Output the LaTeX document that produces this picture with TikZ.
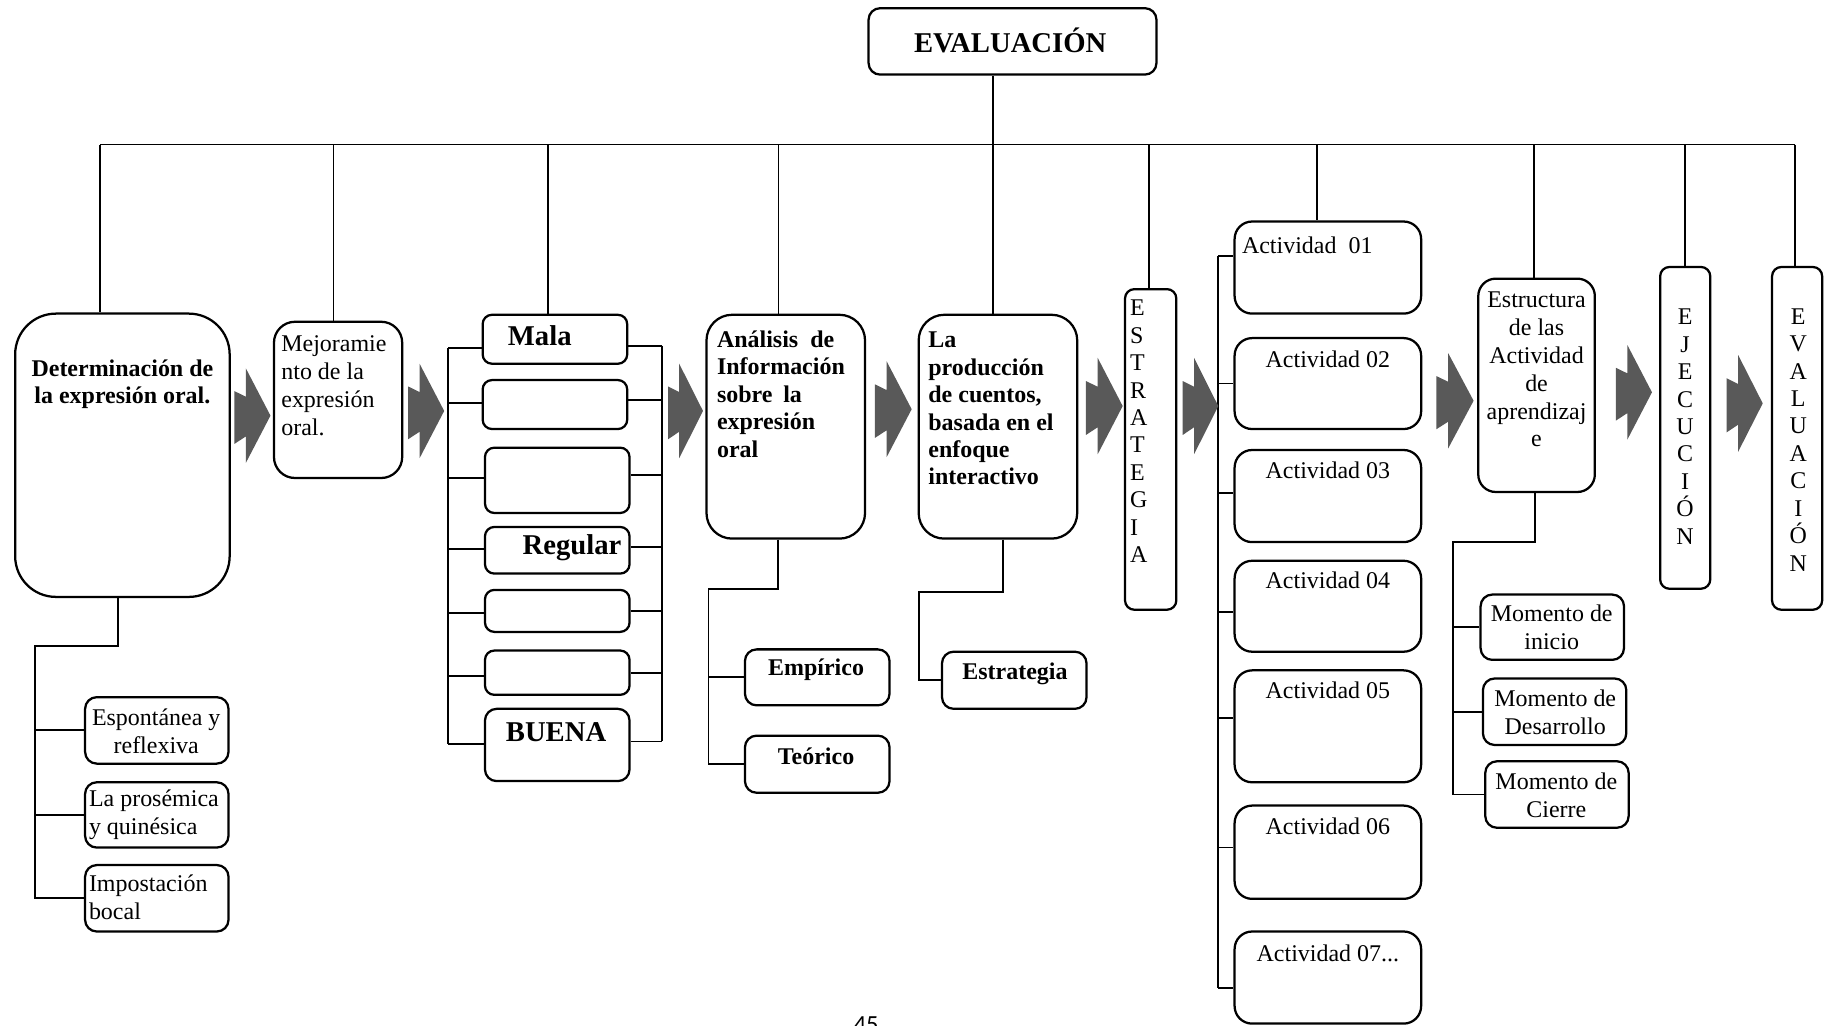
\documentclass[tikz,border=0pt]{standalone}
\usepackage{fontspec}
\setmainfont{Liberation Serif}
\newfontfamily\pagefont{Carlito}
\usetikzlibrary{calc}
\definecolor{chevgray}{HTML}{595959}
\tikzset{
  rbox/.style={draw, line width=1.1pt, inner sep=0pt, rounded corners=#1},
  rbox/.default=0.2cm,
  ln/.style={line width=0.9pt},
  chev/.style={fill=chevgray},
  txt/.style={inner sep=0pt, font=\fontsize{11.7}{13.6}\selectfont},
  vtxt/.style={inner sep=0pt, font=\fontsize{11.7}{13.4}\selectfont},
  btxt/.style={inner sep=0pt, font=\fontsize{11.7}{13.4}\selectfont\bfseries},
  big/.style={inner sep=0pt, font=\fontsize{14}{16}\selectfont\bfseries}
}
% box: [radius]{name}{x1}{y1}{x2}{y2}
\newcommand\mkbox[6][0.2cm]{\node[rbox=#1, minimum width={(#5-#3)*0.02cm}, minimum height={(#6-#4)*0.02cm}] (#2) at ({(#3+#5)/2},{(#4+#6)/2}) {};}
% chevron: xleft, ytop, xtip, ybottom
\newcommand\chev[4]{\fill[chev] ({#1+0.32*(#3-#1)},#2) -- (#3,{(#2+#4)/2}) -- ({#1+0.32*(#3-#1)},#4) -- ({#1+0.32*(#3-#1)},{#2+0.72*(#4-#2)}) -- (#1,{#2+0.8*(#4-#2)}) -- (#1,{#2+0.24*(#4-#2)}) -- ({#1+0.32*(#3-#1)},{#2+0.3*(#4-#2)}) -- cycle;}
\begin{document}
\begin{tikzpicture}[x=0.02cm,y=-0.02cm]
\useasboundingbox (0,0) rectangle (1568,880);

% ---------- boxes ----------
\mkbox{ev}{745}{7}{992}{64}
\mkbox[0.7cm]{det}{13}{269}{197}{512}
\mkbox[0.36cm]{mej}{235}{276}{345}{410}
\mkbox{s1}{73}{598}{196}{655}
\mkbox{s2}{73}{671}{196}{727}
\mkbox{s3}{73}{742}{196}{799}
\mkbox[0.16cm]{m1}{414}{270}{538}{312}
\mkbox[0.16cm]{m2}{414}{326}{538}{368}
\mkbox[0.16cm]{m3}{416}{384}{540}{440}
\mkbox[0.16cm]{m4}{416}{452}{540}{492}
\mkbox[0.16cm]{m5}{416}{506}{540}{542}
\mkbox[0.16cm]{m6}{416}{558}{540}{596}
\mkbox[0.2cm]{m7}{416}{608}{540}{670}
\mkbox[0.44cm]{ana}{606}{270}{742}{462}
\mkbox{emp}{639}{557}{763}{605}
\mkbox{teo}{639}{631}{763}{680}
\mkbox[0.44cm]{prod}{788}{270}{924}{462}
\mkbox{estg}{808}{559}{932}{608}
\mkbox[0.16cm]{vestr}{965}{248}{1009}{523}
\mkbox[0.3cm]{a1}{1059}{190}{1219}{269}
\mkbox[0.3cm]{a2}{1059}{290}{1219}{368}
\mkbox[0.3cm]{a3}{1059}{386}{1219}{465}
\mkbox[0.3cm]{a4}{1059}{481}{1219}{559}
\mkbox[0.3cm]{a5}{1059}{575}{1219}{671}
\mkbox[0.3cm]{a6}{1059}{691}{1219}{771}
\mkbox[0.3cm]{a7}{1059}{799}{1219}{878}
\mkbox[0.3cm]{estc}{1268}{239}{1368}{422}
\mkbox{mi}{1270}{510}{1393}{566}
\mkbox{md}{1272}{582}{1395}{639}
\mkbox{mc}{1274}{653}{1397}{710}
\mkbox[0.16cm]{vej}{1424}{229}{1467}{505}
\mkbox[0.16cm]{vev}{1520}{229}{1563}{523}

% ---------- main bus ----------
\coordinate (j1) at (86,124);
\coordinate (j2) at (286,124);
\coordinate (j3) at (470,124);
\coordinate (j4) at (667.7,124);
\coordinate (j5) at (851.5,124);
\coordinate (j6) at (985.6,124);
\coordinate (j7) at (1130,124);
\coordinate (j8) at (1316,124);
\coordinate (j9) at (1445,124);
\coordinate (j10) at (1539.5,124);
\draw[ln] (j1) -- (j10);
\draw[ln] (ev.south -| j5) -- (j5);
\draw[ln] (j1) -- (j1 |- det.north);
\draw[ln] (j2) -- (j2 |- mej.north);
\draw[ln] (j3) -- (j3 |- m1.north);
\draw[ln] (j4) -- (j4 |- ana.north);
\draw[ln] (j5) -- (j5 |- prod.north);
\draw[ln] (j6) -- (j6 |- vestr.north);
\draw[ln] (j7) -- (j7 |- a1.north);
\draw[ln] (j8) -- (j8 |- estc.north);
\draw[ln] (j9) -- (j9 |- vej.north);
\draw[ln] (j10) -- (j10 |- vev.north);

% ---------- Determinacion tree ----------
\coordinate (dA) at (101.5,554);
\coordinate (dB) at (30,554);
\draw[ln] (dA |- det.south) -- (dA) -- (dB) -- (dB |- s3.west) -- (s3.west);
\draw[ln] (dB |- s1.west) -- (s1.west);
\draw[ln] (dB |- s2.west) -- (s2.west);

% ---------- Mala column brackets ----------
\coordinate (L1) at (384.4,298.6);
\coordinate (L2) at (384.4,346);
\coordinate (L3) at (384.4,410);
\coordinate (L4) at (384.4,471);
\coordinate (L5) at (384.4,526);
\coordinate (L6) at (384.4,580);
\coordinate (L7) at (384.4,638);
\coordinate (R1) at (567.6,296.5);
\coordinate (R2) at (567.6,343);
\coordinate (R3) at (567.6,407.5);
\coordinate (R4) at (567.6,469);
\coordinate (R5) at (567.6,523.8);
\coordinate (R6) at (567.6,577.5);
\coordinate (R7) at (567.6,636);
\draw[ln] (L1) -- (L7);
\draw[ln] (R1) -- (R7);
\foreach \i in {1,...,7}{
  \draw[ln] (L\i) -- (L\i -| m\i.west);
  \draw[ln] (R\i -| m\i.east) -- (R\i);
}

% ---------- Analisis tree ----------
\coordinate (aA) at (667,505);
\coordinate (aB) at (607.7,505);
\draw[ln] (aA |- ana.south) -- (aA) -- (aB) -- (aB |- teo.west) -- (teo.west);
\draw[ln] (aB |- emp.west) -- (emp.west);

% ---------- Produccion tree ----------
\coordinate (pA) at (860,508);
\coordinate (pB) at (788,508);
\draw[ln] (pA |- prod.south) -- (pA) -- (pB) -- (pB |- estg.west) -- (estg.west);

% ---------- Actividades ----------
\coordinate (k1) at (1045,219.6);
\coordinate (k2) at (1045,329);
\coordinate (k3) at (1045,423);
\coordinate (k4) at (1045,525);
\coordinate (k5) at (1045,616);
\coordinate (k6) at (1045,727);
\coordinate (k7) at (1045,847.5);
\draw[ln] (k1) -- (k7);
\foreach \i in {1,...,7}{
  \draw[ln] (k\i) -- (k\i -| a\i.west);
}

% ---------- Estructura tree ----------
\coordinate (eA) at (1317,465);
\coordinate (eB) at (1246,465);
\draw[ln] (eA |- estc.south) -- (eA) -- (eB) -- (eB |- mc.west) -- (mc.west);
\draw[ln] (eB |- mi.west) -- (mi.west);
\draw[ln] (eB |- md.west) -- (md.west);

% ---------- chevrons ----------
\chev{201}{316}{232}{397}
\chev{350}{312}{381}{393}
\chev{573}{312}{603}{393}
\chev{750.5}{310}{782}{392}
\chev{931.5}{307}{963}{389.6}
\chev{1014.5}{307}{1045}{389.6}
\chev{1232}{303}{1264}{384.5}
\chev{1386}{296}{1417}{377}
\chev{1481}{304.5}{1512}{387.5}

% ---------- texts ----------
\node[big] (tev) at (866.5,35) {EVALUACIÓN};
\node[btxt, align=center] (tdet) at (105,329.5) {Determinación de\\la expresión oral.};
\node[txt, align=left, anchor=west] (tmej) at (241,331) {Mejoramie\\nto de la\\expresión\\oral.};
\node[txt, align=center] (ts1) at (134,627) {Espontánea y\\reflexiva};
\node[txt, align=left, anchor=west] (ts2) at (76,699) {La prosémica\\y quinésica};
\node[txt, align=left, anchor=west] (ts3) at (76,770) {Impostación\\bocal};
\node[big] (tmala) at (463,288) {Mala};
\node[big] (treg) at (490.6,470) {Regular};
\node[big] (tbue) at (477,628) {BUENA};
\node[btxt, align=left, anchor=west] (tana) at (614.7,338) {Análisis\hspace{0.5em}de\\Información\\sobre\hspace{0.45em}la\\expresión\\oral};
\node[btxt] (temp) at (700,574.5) {Empírico};
\node[btxt] (tteo) at (700,648.5) {Teórico};
\node[btxt, align=left, anchor=west] (tprod) at (796,350.5) {La\\producción\\de cuentos,\\basada en el\\enfoque\\interactivo};
\node[btxt] (testg) at (870.6,578) {Estrategia};
\node[vtxt, align=left, anchor=west] (tvestr) at (969,370) {E\\S\\T\\R\\A\\T\\E\\G\\I\\A};
\node[txt, anchor=west] (ta1) at (1065,210) {Actividad\ \ 01};
\node[txt] (ta2) at (1139,308) {Actividad 02};
\node[txt] (ta3) at (1139,403) {Actividad 03};
\node[txt] (ta4) at (1139,498) {Actividad 04};
\node[txt] (ta5) at (1139,592) {Actividad 05};
\node[txt] (ta6) at (1139,708.5) {Actividad 06};
\node[txt] (ta7) at (1139,817.5) {Actividad 07...};
\node[txt, align=center] (tec) at (1318,317) {Estructura\\de las\\Actividad\\de\\aprendizaj\\e};
\node[txt, align=center] (tmi) at (1331,538) {Momento de\\inicio};
\node[txt, align=center] (tmd) at (1334,611) {Momento de\\Desarrollo};
\node[txt, align=center] (tmc) at (1335,682.5) {Momento de\\Cierre};
\node[vtxt, align=center] (tej) at (1445.4,366) {E\\J\\E\\C\\U\\C\\I\\Ó\\N};
\node[vtxt, align=center] (tevv) at (1542.5,377.3) {E\\V\\A\\L\\U\\A\\C\\I\\Ó\\N};
\node[inner sep=0pt, font=\pagefont\fontsize{12}{14}\selectfont, anchor=base] (pg) at (743,886) {45};
\end{tikzpicture}
\end{document}
